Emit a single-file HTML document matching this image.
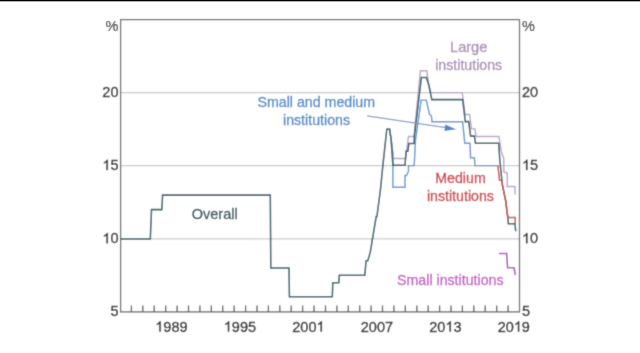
<!DOCTYPE html>
<html><head><meta charset="utf-8"><style>
html,body{margin:0;padding:0;background:#fff;width:640px;height:353px;overflow:hidden}
svg{display:block;will-change:transform}
text{font-family:"Liberation Sans",sans-serif;font-size:14.5px;stroke-width:0.3px}
.lb text{font-size:14.2px}
</style></head><body>
<svg width="640" height="353" viewBox="0 0 640 353">
<defs><filter id="bl" x="0" y="0" width="640" height="353" filterUnits="userSpaceOnUse"><feConvolveMatrix order="3" kernelMatrix="0.0225 0.105 0.0225 0.105 0.49 0.105 0.0225 0.105 0.0225" divisor="1" edgeMode="duplicate"/></filter></defs><g filter="url(#bl)"><rect x="0" y="0" width="640" height="353" fill="#fff"/>
<!-- gridlines -->
<g stroke="#cbcbcb" stroke-width="1.1">
<line x1="120" y1="92.6" x2="519.5" y2="92.6"/>
<line x1="120" y1="165.6" x2="519.5" y2="165.6"/>
<line x1="120" y1="238.9" x2="519.5" y2="238.9"/>
</g>
<!-- frame -->
<rect x="120.6" y="19.6" width="398.9" height="292.3" fill="none" stroke="#656565" stroke-width="1.3"/>
<!-- ticks -->
<path id="ticks" stroke="#555" stroke-width="1.3" fill="none" d="M131.4,311.9V305.6 M142.8,311.9V305.6 M154.2,311.9V305.6 M165.7,311.9V305.6 M177.1,311.9V305.6 M188.5,311.9V305.6 M199.9,311.9V305.6 M211.3,311.9V305.6 M222.7,311.9V305.6 M234.1,311.9V305.6 M245.6,311.9V305.6 M257.0,311.9V305.6 M268.4,311.9V305.6 M279.8,311.9V305.6 M291.2,311.9V305.6 M302.6,311.9V305.6 M314.0,311.9V305.6 M325.5,311.9V305.6 M336.9,311.9V305.6 M348.3,311.9V305.6 M359.7,311.9V305.6 M371.1,311.9V305.6 M382.5,311.9V305.6 M393.9,311.9V305.6 M405.3,311.9V305.6 M416.8,311.9V305.6 M428.2,311.9V305.6 M439.6,311.9V305.6 M451.0,311.9V305.6 M462.4,311.9V305.6 M473.8,311.9V305.6 M485.2,311.9V305.6 M496.7,311.9V305.6 M508.1,311.9V305.6"/>
<!-- y labels -->
<g fill="#1e1e1e" stroke="#1e1e1e" text-anchor="end">
<text x="118.5" y="31.3" stroke="#222" fill="#222" style="stroke-width:0.12px">%</text>
<text x="118.5" y="97">20</text>
<text x="118.5" y="170.1">&#x2007;5</text>
<text x="118.5" y="243.3">&#x2007;0</text>
<text x="118.5" y="315.8">5</text>
</g>
<g fill="#1e1e1e" stroke="#1e1e1e" text-anchor="start">
<text x="522" y="31.3" stroke="#222" fill="#222" style="stroke-width:0.12px">%</text>
<text x="522" y="97">20</text>
<text x="522" y="170.1">&#x2007;5</text>
<text x="522" y="243.3">&#x2007;0</text>
<text x="522" y="315.8">5</text>
</g>
<g fill="#1e1e1e" stroke="#1e1e1e" text-anchor="middle">
<text x="171.4" y="331.6">&#x2007;989</text>
<text x="239.9" y="331.6">&#x2007;995</text>
<text x="308.4" y="331.6">200&#x2007;</text>
<text x="376.9" y="331.6">2007</text>
<text x="445.4" y="331.6">20&#x2007;3</text>
<text x="513.8" y="331.6">20&#x2007;9</text>
</g>
<g fill="#1e1e1e" stroke="#1e1e1e" stroke-width="42"><path transform="translate(102.37,170.1) scale(0.00708,-0.00708)" d="M763,0 L583,0 L583,1147 Q518,1085 412.5,1023 Q307,961 223,930 L223,1104 Q374,1175 487,1276 Q600,1377 647,1472 L763,1472 Z"/><path transform="translate(102.37,243.3) scale(0.00708,-0.00708)" d="M763,0 L583,0 L583,1147 Q518,1085 412.5,1023 Q307,961 223,930 L223,1104 Q374,1175 487,1276 Q600,1377 647,1472 L763,1472 Z"/><path transform="translate(522.00,170.1) scale(0.00708,-0.00708)" d="M763,0 L583,0 L583,1147 Q518,1085 412.5,1023 Q307,961 223,930 L223,1104 Q374,1175 487,1276 Q600,1377 647,1472 L763,1472 Z"/><path transform="translate(522.00,243.3) scale(0.00708,-0.00708)" d="M763,0 L583,0 L583,1147 Q518,1085 412.5,1023 Q307,961 223,930 L223,1104 Q374,1175 487,1276 Q600,1377 647,1472 L763,1472 Z"/><path transform="translate(155.27,331.6) scale(0.00708,-0.00708)" d="M763,0 L583,0 L583,1147 Q518,1085 412.5,1023 Q307,961 223,930 L223,1104 Q374,1175 487,1276 Q600,1377 647,1472 L763,1472 Z"/><path transform="translate(223.77,331.6) scale(0.00708,-0.00708)" d="M763,0 L583,0 L583,1147 Q518,1085 412.5,1023 Q307,961 223,930 L223,1104 Q374,1175 487,1276 Q600,1377 647,1472 L763,1472 Z"/><path transform="translate(316.46,331.6) scale(0.00708,-0.00708)" d="M763,0 L583,0 L583,1147 Q518,1085 412.5,1023 Q307,961 223,930 L223,1104 Q374,1175 487,1276 Q600,1377 647,1472 L763,1472 Z"/><path transform="translate(445.40,331.6) scale(0.00708,-0.00708)" d="M763,0 L583,0 L583,1147 Q518,1085 412.5,1023 Q307,961 223,930 L223,1104 Q374,1175 487,1276 Q600,1377 647,1472 L763,1472 Z"/><path transform="translate(513.80,331.6) scale(0.00708,-0.00708)" d="M763,0 L583,0 L583,1147 Q518,1085 412.5,1023 Q307,961 223,930 L223,1104 Q374,1175 487,1276 Q600,1377 647,1472 L763,1472 Z"/></g>
<!-- data lines -->
<g fill="none" stroke-width="1.6" stroke-linejoin="miter" stroke-linecap="butt">
<path stroke="#6495d0" stroke-width="1.45" d="M386.8,129.2 H389.6 L391.2,140 L392.9,153 V187.3 H405 V175.5 H406.4 L408.5,171.2 V165.6 H414.2 L415.5,140 L421.2,100.1 H426.3 L429.5,114.1 L431.4,116 L432,121.7 H462.6 L464.8,143.2 H469.9 L470.6,157.8 H474.4 L475,165.6 H497.9"/>
<path stroke="#b8a4c6" stroke-width="1.4" d="M386.8,129.2 H389.6 L391.2,140 L392.9,158.5 H405.5 L408.5,136.5 H414 L420.4,70.8 H426.8 L428.8,85 L431,92.6 H462.3 L465,114.5 H469.6 L471.5,128.9 H475 L476,136.5 H498.9 L501.4,152 L503.8,158.5 V172 L507.2,173 V186.5 H515 V194.5"/>
<path stroke="#aa58b8" d="M498.9,253.5 H506.6 L507.6,267.8 H514 L515.3,275"/>
<path stroke="#335a66" stroke-width="1.55" d="M120,239 H150.3 L151.5,209.6 H161.8 L162.6,195.1 H270.3 L270.8,268 H289 L289.4,296.8 H332.3 L332.8,282.8 H338.8 L339.3,275.2 H364.8 L366.1,260.7 H367.8 L370.3,252.2 L372.3,240 L376.2,216.5 H376.9 L380.4,190 L382.9,165.1 L386.8,129.2 H389.6 L391.2,140 L392.9,165.3 H405 L406.1,151.2 H407.9 L408.9,143.5 H414 L414.5,135 L421.4,77.4 H426.3 L428.8,85 L431.8,99.6 H462.7 L465.3,121.6 H468.7 L470.6,136.1 H474.4 L475.5,143.3 H498.7 L499.8,160 L502.4,185 L505.8,201.3 L507.9,217.6 L508.3,223.7 H515 L515.7,231.2"/>
<path stroke="#d0424a" stroke-width="1.45" d="M497.9,165.6 L499.4,180.2 H501.4 L502.4,185 L505.8,201.3 L507.7,217.4 H515.2 V224"/>
</g>
<!-- arrow -->
<line x1="367" y1="115.9" x2="446" y2="127.6" stroke="#8a9cc0" stroke-width="1.2"/>
<polygon points="456.2,129.2 445.2,124.5 444.4,131" fill="#5585c4"/>
<!-- labels -->
<g text-anchor="middle" class="lb">
<text x="316.3" y="107.4" fill="#4f8acc" stroke="#4f8acc">Small and medium</text>
<text x="316.5" y="125.2" fill="#4f8acc" stroke="#4f8acc">institutions</text>
<text x="468.7" y="51.9" fill="#a990b8" stroke="#a990b8" style="font-size:14.6px">Large</text>
<text x="468.7" y="69.8" fill="#a990b8" stroke="#a990b8">institutions</text>
<text x="460.5" y="182.7" fill="#cc4048" stroke="#cc4048">Medium</text>
<text x="460.4" y="200.9" fill="#cc4048" stroke="#cc4048">institutions</text>
<text x="214.7" y="219" fill="#30505f" stroke="#30505f" style="font-size:14.5px">Overall</text>
<text x="450.3" y="285.3" fill="#c45ac4" stroke="#c45ac4">Small institutions</text>
</g>
</g><rect x="0" y="0" width="640" height="1" fill="#000"/><rect x="0" y="1" width="640" height="1" fill="#b0b0b0"/></svg>
</body></html>
